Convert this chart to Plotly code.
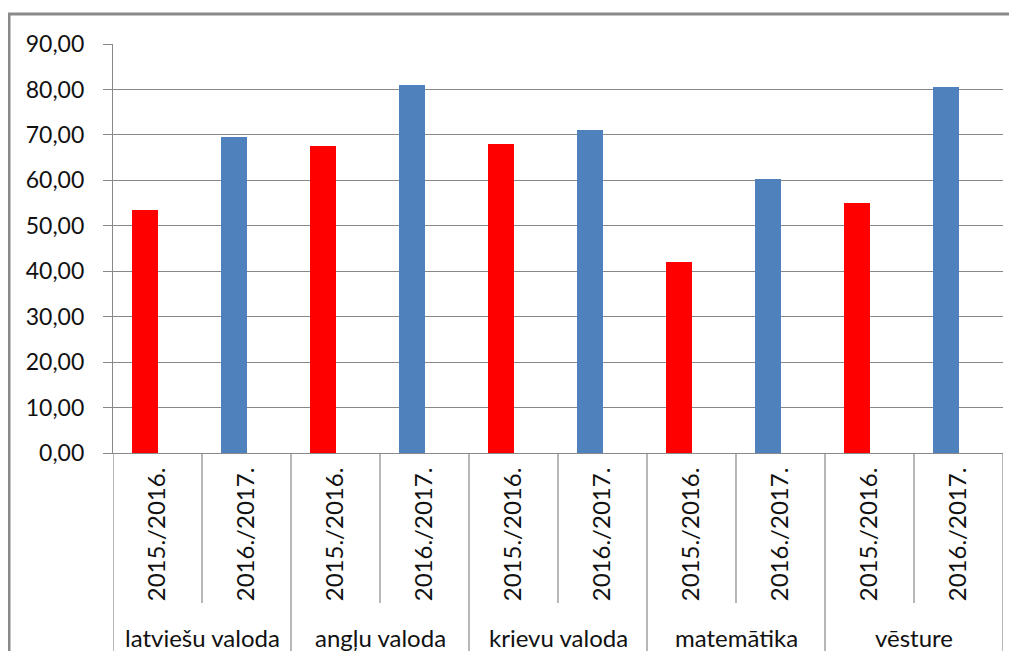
import plotly.graph_objects as go

# ---- data ----
subjects = ["latviešu valoda", "angļu valoda", "krievu valoda", "matemātika", "vēsture"]
periods = ["2015./2016.", "2016./2017."]
values_2015 = [53.4, 67.5, 68.0, 42.1, 55.1]
values_2016 = [69.5, 81.0, 71.1, 60.4, 80.5]
y_ticks = [0, 10, 20, 30, 40, 50, 60, 70, 80, 90]
y_tick_labels = ["0,00", "10,00", "20,00", "30,00", "40,00", "50,00", "60,00", "70,00", "80,00", "90,00"]

RED = "#FF0000"
BLUE = "#4F81BD"
GRAY = "#888888"
FRAME = "#8a8a8a"
FONT = "Lato"
TXT = "#111111"

# page is rendered with an 8px body margin; positions below are in screenshot pixels
OFF = 8
VW, VH = 1017, 659
W, H = VW - 2 * OFF, VH - 2 * OFF
PL, PR, PT, PB = 113, 1003, 44, 453          # plot area in screenshot pixels
ML, MT = PL - OFF, PT - OFF
MR, MB = (W + OFF) - PR, (H + OFF) - PB
PW, PH = W - ML - MR, H - MT - MB

def py(s_y):
    """screenshot y -> paper y"""
    return (PB - s_y) / PH

def pxx(s_x):
    return (s_x - PL) / PW

cats = [f"{s}|{p}" for s in subjects for p in periods]
tick_text = [p for s in subjects for p in periods]
x_red = [f"{s}|{periods[0]}" for s in subjects]
x_blue = [f"{s}|{periods[1]}" for s in subjects]

fig = go.Figure()
fig.add_trace(go.Bar(x=x_red, y=values_2015, marker=dict(color=RED, line=dict(width=0)),
                     width=0.29, offset=-0.29, name=periods[0]))
fig.add_trace(go.Bar(x=x_blue, y=values_2016, marker=dict(color=BLUE, line=dict(width=0)),
                     width=0.29, offset=-0.29, name=periods[1]))

shapes = []
n = len(cats)
for i in range(n + 1):
    is_group = (i % 2 == 0)
    y_end = py(VH + 5) if is_group else py(603)
    shapes.append(dict(type="line", xref="x", yref="paper", x0=i - 0.5, x1=i - 0.5,
                       y0=0, y1=y_end, line=dict(color=GRAY, width=1.2), layer="above"))
# outer chart frame (left and top)
shapes.append(dict(type="line", xref="paper", yref="paper", x0=pxx(9), x1=pxx(9),
                   y0=py(13), y1=py(VH + 20), line=dict(color=FRAME, width=3)))
shapes.append(dict(type="line", xref="paper", yref="paper", x0=pxx(8), x1=pxx(VW + 40),
                   y0=py(14), y1=py(14), line=dict(color=FRAME, width=3)))

annotations = []
for k, s in enumerate(subjects):
    annotations.append(dict(x=2 * k + 0.5, y=py(637), xref="x", yref="paper", text=s,
                            showarrow=False, xanchor="center", yanchor="middle",
                            font=dict(family=FONT, size=24, color=TXT)))

fig.update_layout(
    width=W, height=H,
    margin=dict(l=ML, r=MR, t=MT, b=MB),
    paper_bgcolor="white", plot_bgcolor="white",
    showlegend=False,
    bargap=0, barmode="overlay",
    shapes=shapes, annotations=annotations,
    font=dict(family=FONT, color=TXT),
)
fig.update_xaxes(
    type="category", categoryorder="array", categoryarray=cats,
    tickmode="array", tickvals=cats, ticktext=tick_text,
    tickangle=-90, tickfont=dict(family=FONT, size=24, color=TXT),
    ticks="outside", ticklen=4, tickcolor="rgba(0,0,0,0)",
    showline=True, linecolor=GRAY, linewidth=1.2,
    showgrid=False, range=[-0.5, n - 0.5], zeroline=False,
)
fig.update_yaxes(
    range=[0, 90], tickmode="array", tickvals=y_ticks, ticktext=y_tick_labels,
    tickfont=dict(family=FONT, size=23, color=TXT),
    ticks="outside", ticklen=9, tickcolor=GRAY, tickwidth=1.2,
    ticklabelstandoff=14,
    showline=True, linecolor=GRAY, linewidth=1.2,
    showgrid=True, gridcolor=GRAY, gridwidth=1.2, zeroline=False,
)

fig.write_html("out.html", config={"displayModeBar": False})
